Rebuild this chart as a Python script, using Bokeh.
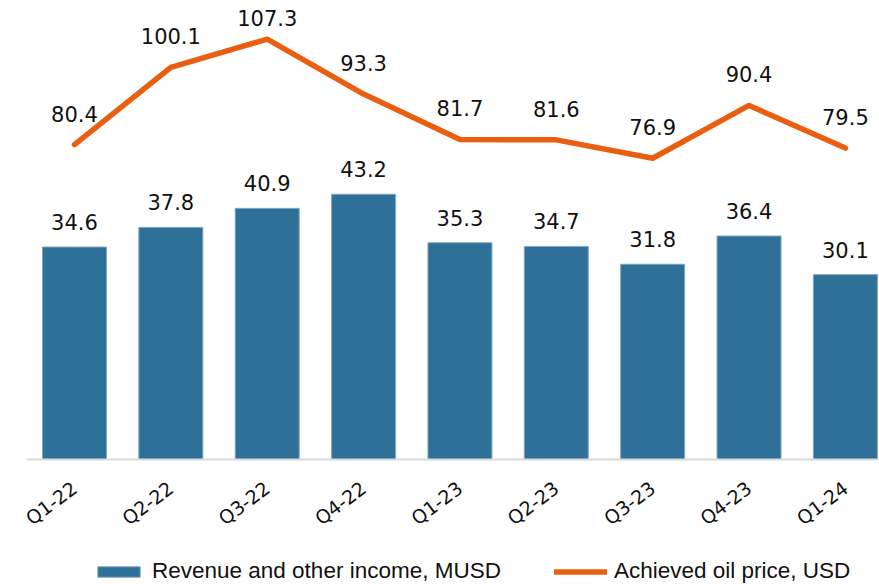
import math
from bokeh.plotting import figure
from bokeh.models import Range1d, FixedTicker, ColumnDataSource, Legend, LegendItem
from bokeh.embed import file_html
from bokeh.resources import INLINE
from bokeh.core.properties import value

# ---- data ----
quarters = ["Q1-22", "Q2-22", "Q3-22", "Q4-22", "Q1-23", "Q2-23", "Q3-23", "Q4-23", "Q1-24"]
revenue = [34.6, 37.8, 40.9, 43.2, 35.3, 34.7, 31.8, 36.4, 30.1]
oil_price = [80.4, 100.1, 107.3, 93.3, 81.7, 81.6, 76.9, 90.4, 79.5]
revenue_name = "Revenue and other income, MUSD"
price_name = "Achieved oil price, USD"

# ---- style / layout ----
BAR_COLOR = "#2E7098"
LINE_COLOR = "#E95E0F"
TEXT_COLOR = "#111111"
W, H = 879, 584
BASE_Y = 459            # pixel row of the zero line
BAR_PX = 6.14           # pixels per MUSD
LINE_PX = 3.917         # pixels per USD

xs = list(range(len(quarters)))

p = figure(width=W, height=H, output_backend="svg", toolbar_location=None,
           x_range=Range1d(-0.498, 8.354),
           y_range=Range1d(-(H - BASE_Y) / BAR_PX, BASE_Y / BAR_PX),
           min_border_left=26, min_border_right=0, min_border_top=0,
           min_border_bottom=0)
p.extra_y_ranges = {"price": Range1d(-(H - BASE_Y) / LINE_PX, BASE_Y / LINE_PX)}
p.outline_line_color = None
p.grid.visible = False
p.yaxis.visible = False
p.background_fill_color = "white"
p.border_fill_color = "white"

ax = p.xaxis[0]
ax.fixed_location = 0
ax.ticker = FixedTicker(ticks=xs, minor_ticks=[])
ax.major_label_overrides = {i: q for i, q in enumerate(quarters)}
ax.axis_line_color = "#D9D9D9"
ax.axis_line_width = 2
ax.major_tick_line_color = None
ax.minor_tick_line_color = None
ax.major_label_orientation = math.radians(37)
ax.major_label_standoff = 20
ax.major_label_text_font = "DejaVu Sans"
ax.major_label_text_font_size = "19px"
ax.major_label_text_color = TEXT_COLOR

bar_src = ColumnDataSource(dict(x=xs, top=revenue, label=[f"{v:.1f}" for v in revenue]))
bars = p.vbar(x="x", top="top", width=0.664, bottom=0, source=bar_src,
              fill_color=BAR_COLOR, line_color="#7FA6C3", line_width=1)

p.text(x="x", y="top", text="label", source=bar_src, text_align="center",
       text_baseline="middle", y_offset=-25, text_font=value("DejaVu Sans"),
       text_font_size="21px", text_color=TEXT_COLOR)

# line labels sit 31px above points, pushed down when they would leave the top
offsets = []
for v in oil_price:
    room = BASE_Y - v * LINE_PX
    offsets.append(-min(31.0, room - 17.5))
line_src = ColumnDataSource(dict(x=xs, y=oil_price, label=[f"{v:.1f}" for v in oil_price], off=offsets))
line = p.line(x="x", y="y", source=line_src, y_range_name="price", line_color=LINE_COLOR,
              line_width=5.5, line_cap="round", line_join="round")
p.text(x="x", y="y", text="label", source=line_src, y_range_name="price",
       text_align="center", text_baseline="middle", y_offset="off",
       text_font=value("DejaVu Sans"), text_font_size="21px", text_color=TEXT_COLOR)

# legend swatch for bars: a thick flat line gives a wide, low rectangle
swatch = p.line(x=[], y=[], line_color=BAR_COLOR, line_width=13, line_cap="butt")

legend = Legend(items=[LegendItem(label=revenue_name, renderers=[bars, swatch]),
                       LegendItem(label=price_name, renderers=[line])],
                orientation="horizontal", location=(66, 0), padding=0, margin=0,
                spacing=53, label_standoff=7, glyph_width=53, glyph_height=13,
                label_text_font="Liberation Sans", label_text_font_size="22.5px",
                label_text_color=TEXT_COLOR, border_line_color=None,
                background_fill_alpha=0)
p.add_layout(legend, "center")

open("out.html", "w").write(file_html(p, INLINE))
